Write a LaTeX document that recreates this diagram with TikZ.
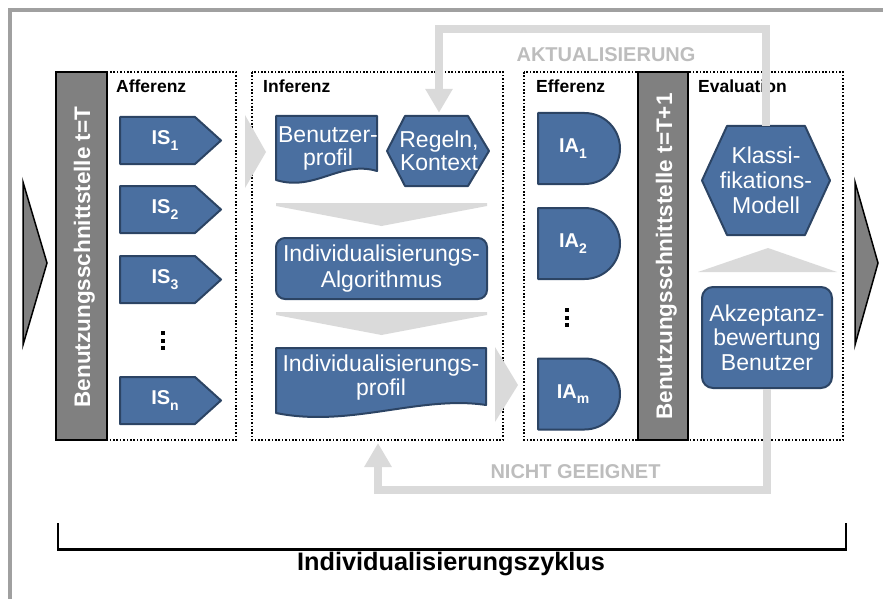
\documentclass[tikz,border=0pt]{standalone}
\usepackage{fontspec}
\setmainfont{Liberation Sans}
\usetikzlibrary{arrows.meta}
\definecolor{shapeblue}{RGB}{74,111,160}
\definecolor{shapeedge}{RGB}{44,68,100}
\definecolor{bargray}{RGB}{128,128,128}
\definecolor{arrowgray}{RGB}{218,218,218}
\definecolor{labelgray}{RGB}{189,189,189}
\definecolor{framegray}{RGB}{160,160,160}
\newcommand{\mysub}[1]{\raisebox{-0.28em}{\fontsize{14}{14}\selectfont #1}}
\begin{document}
\begin{tikzpicture}[x=1pt,y=-1pt,
  blueshape/.style={fill=shapeblue,draw=shapeedge,line width=2pt,line join=round},
  shapetext/.style={text=white,font=\fontsize{23}{23}\selectfont,align=center,inner sep=0pt},
  keytext/.style={text=white,font=\fontsize{20}{20}\selectfont\bfseries,inner sep=0pt},
  phase/.style={font=\fontsize{17.5}{18}\selectfont\bfseries,anchor=base west,inner sep=0pt},
  dotbox/.style={draw=black,line width=1.6pt,dash pattern=on 1.6pt off 1.8pt},
  ifbar/.style={fill=bargray,draw=black,line width=1.5pt},
  bartext/.style={text=white,font=\fontsize{22.5}{23}\selectfont\bfseries,rotate=90,anchor=base,inner sep=0pt},
  chev/.style={fill=arrowgray},
  flow/.style={draw=arrowgray,line width=8pt,-{Triangle[width=26pt,length=24pt]}},
  flowtext/.style={text=labelgray,font=\fontsize{20}{20}\selectfont\bfseries,anchor=base,inner sep=0pt},
  dotmark/.style={fill=black}
]
\useasboundingbox (0,0) rectangle (883,599);
% outer frame
\draw[framegray,line width=4pt] (9.5,599) -- (9.5,10) -- (883,10);
% big side arrows
\draw[fill=bargray,draw=black,line width=1.5pt,line join=miter] (23,182) -- (47,263) -- (23,345) -- cycle;
\draw[fill=bargray,draw=black,line width=1.5pt,line join=miter] (855,182) -- (878,263) -- (855,345) -- cycle;
% dotted phase boxes
\draw[dotbox] (107,72) rectangle (236,440);
\draw[dotbox] (252,72) rectangle (503,440);
\draw[dotbox] (524,72) rectangle (843,440);
% interface bars
\draw[ifbar] (56,72) rectangle (107,440);
\draw[ifbar] (638,72) rectangle (688,440);
\node[bartext] (bar1) at (90,257) {Benutzungsschnittstelle t=T};
\node[bartext] (bar2) at (672,256.5) {Benutzungsschnittstelle t=T+1};
% phase labels
\node[phase] (laff) at (116,93) {Afferenz};
\node[phase] (linf) at (263,93) {Inferenz};
\node[phase] (leff) at (536,93) {Efferenz};
\node[phase] (leva) at (698,93) {Evaluation};
% IS shapes
\foreach \n/\ya/\yb/\lab in {is1/117/164/1, is2/186/233/2, is3/256/303/3, isn/377/424/n}{
  \draw[blueshape] (120,\ya) -- (195,\ya) -- (221,{(\ya+\yb)/2}) -- (195,\yb) -- (120,\yb) -- cycle;
  \node[keytext] (\n) at (165,{(\ya+\yb)/2}) {IS\mysub{\lab}};
}
\foreach \yy in {333,340.5,348}{\fill[dotmark] (161,\yy-2) rectangle (165,\yy+2);}
% IA shapes
\foreach \n/\ya/\lab in {ia1/113/1, ia2/208/2, iam/358.5/m}{
  \draw[blueshape] (538,\ya) -- (584.5,\ya) arc[start angle=90,end angle=-90,radius=35.5pt] -- (538,\ya+71) -- cycle;
  \node[keytext] (\n) at (573,\ya+35.5) {IA\mysub{\lab}};
}
\foreach \yy in {310,317.5,325}{\fill[dotmark] (565,\yy-2) rectangle (569,\yy+2);}
% Benutzerprofil (document)
\draw[blueshape] (276,116) -- (377,116) -- (377,171) .. controls (340,160) and (315,192) .. (276,180) -- cycle;
\node[shapetext,minimum width=101pt,minimum height=64pt] (bprof) at (328,148) {Benutzer-\\profil};
% Regeln, Kontext (hexagon)
\draw[blueshape] (387,151) -- (405,116) -- (468,116) -- (489,151) -- (468,186) -- (405,186) -- cycle;
\node[shapetext,minimum width=102pt,minimum height=76pt] (regeln) at (439,151) {Regeln,\\Kontext};
% chevrons inside Inferenz
\fill[chev] (276,203) -- (487,203) -- (487,206) -- (381.5,226) -- (276,206) -- cycle;
\fill[chev] (276,312) -- (487,312) -- (487,315) -- (381.5,335) -- (276,315) -- cycle;
% Individualisierungs-Algorithmus
\node[blueshape,rounded corners=9pt,minimum width=211pt,minimum height=61pt,shapetext,font=\fontsize{23}{26}\selectfont] (alg) at (381.5,268.5) {Individualisierungs-\\Algorithmus};
% Individualisierungsprofil (document)
\draw[blueshape] (276,348) -- (486,348) -- (486,405) .. controls (420,395) and (350,428) .. (276,413) -- cycle;
\node[shapetext,minimum width=210pt,minimum height=60pt,font=\fontsize{23}{24}\selectfont] (iprof) at (381,378) {Individualisierungs-\\profil};
% flow triangles between phases
\fill[chev] (245,115) -- (266,152) -- (245,188) -- cycle;
\fill[chev] (495,347) -- (518,385) -- (495,422) -- cycle;
% Klassifikations-Modell (hexagon)
\draw[blueshape] (702,180.5) -- (727,126) -- (805,126) -- (830,180.5) -- (805,235) -- (727,235) -- cycle;
\node[shapetext,minimum width=128pt,minimum height=109pt,font=\fontsize{23}{25}\selectfont] (klass) at (766,180.5) {Klassi-\\fikations-\\Modell};
% upward chevron
\fill[chev] (698,272) -- (768,248) -- (837,272) -- cycle;
% Akzeptanzbewertung
\node[blueshape,rounded corners=11pt,minimum width=130pt,minimum height=101pt,shapetext,font=\fontsize{23}{24.5}\selectfont] (akz) at (767,337.5) {Akzeptanz-\\bewertung\\Benutzer};
% feedback flows
\draw[flow] (klass.north) -- ++(0,-97) -| (regeln.north);
\node[flowtext] (lakt) at (606,62) {AKTUALISIERUNG};
\coordinate (ngend) at (378,443);
\draw[flow] (akz.south) -- ++(0,101) -| (ngend);
\node[flowtext] (lng) at (575.5,478) {NICHT GEEIGNET};
% cycle bracket
\draw[line width=2.5pt] (58,523) -- (58,549.5) -- (846,549.5) -- (846,523);
\node[font=\fontsize{25.3}{26}\selectfont\bfseries,anchor=base,inner sep=0pt] (zyklus) at (451,570) {Individualisierungszyklus};
\end{tikzpicture}
\end{document}
